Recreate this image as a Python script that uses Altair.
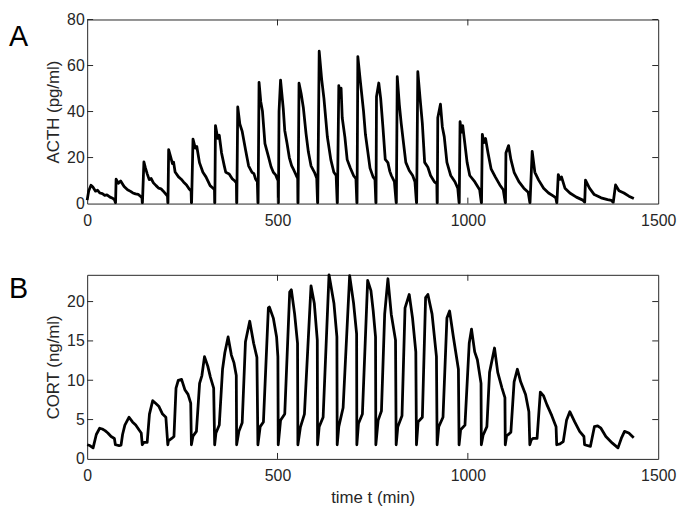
import altair as alt
import pandas as pd

# ---------------- data ----------------
acth_t = [0, 4, 10, 15, 22, 27, 33, 40, 46, 52, 60, 67, 72, 74.1,
          74.6, 76, 82, 88, 97, 106, 114, 120, 127, 134, 140, 144, 144.7,
          145.2, 149, 153, 158, 163, 168, 174, 181, 188, 194, 200, 206, 211, 211.8,
          212.3, 214, 220, 224, 227, 231, 240, 247, 253, 261, 268, 273, 273.8,
          274.3, 278, 284, 288, 295, 304, 312, 318, 323, 330, 334.4, 334.9,
          335.4, 337, 343, 347, 353, 360, 364, 373, 381, 388, 392, 392.6,
          393.1, 395.5, 401, 407, 416, 424, 433, 438, 442, 447, 448.5,
          449, 451.5, 456, 460.5, 467, 476, 483, 489, 495, 499, 501.4, 501.9,
          502.4, 504, 508, 515, 519, 525, 531, 537, 543, 549, 553, 553.5,
          554, 556.5, 562, 568, 575, 581, 588, 597, 603, 605.2,
          605.7, 609.5, 616, 622, 631, 640, 648, 654, 656.8,
          657.3, 661, 664, 667, 670, 677, 683, 691, 700, 706, 708.4,
          708.9, 711, 717, 726, 731, 736, 743, 751, 756, 758.3,
          758.8, 760, 766, 771, 777, 783, 790, 795, 799, 807, 811.7,
          812.2, 814.5, 820, 825, 831, 837, 846, 855, 861, 865,
          865.5, 868.5, 874.5, 880.5, 886.5, 895, 902, 912, 918.5, 919.3,
          919.8, 921, 928, 933, 938, 945, 955, 966, 973.5, 976.9,
          977.4, 979.5, 983, 986.5, 992, 998, 1005, 1018, 1031, 1035.4,
          1035.9, 1038, 1042, 1046.5, 1053, 1061, 1072, 1084, 1093, 1098.3,
          1098.8, 1100, 1107, 1113, 1121.5, 1134, 1147, 1158.5, 1162.8,
          1163.3, 1169, 1176, 1186, 1199, 1212, 1225, 1231, 1233.4,
          1233.9, 1237.5, 1242, 1246, 1255, 1268, 1285, 1302, 1306.6,
          1307, 1309, 1319.5, 1332, 1350, 1367, 1377, 1381.5,
          1382, 1388, 1397, 1410, 1423, 1436]
acth_v = [1.5, 5.5, 8.0, 7.2, 5.4, 5.8, 4.6, 4.3, 3.6, 3.8, 2.8, 2.3, 1.6, 0.4,
          0.4, 10.6, 8.8, 9.8, 7.4, 6.0, 5.3, 4.6, 4.2, 4.0, 3.2, 2.5, 0.4,
          0.4, 18.1, 15.5, 12.8, 10.4, 10.9, 9.0, 7.8, 6.7, 6.4, 5.4, 4.2, 3.2, 0.4,
          0.4, 23.4, 19.9, 17.4, 18.0, 13.7, 11.6, 10.6, 9.4, 8.1, 6.3, 5.5, 0.4,
          0.4, 28.0, 24.1, 24.8, 17.8, 13.6, 11.6, 9.5, 7.8, 6.8, 6.0, 0.4,
          0.4, 33.9, 28.3, 29.7, 22.0, 16.5, 13.6, 12.9, 10.8, 9.8, 9.0, 0.4,
          0.4, 42.0, 34.6, 31.5, 23.4, 16.4, 13.6, 13.0, 10.8, 9.5, 0.4,
          0.4, 52.7, 44.3, 40.1, 26.1, 20.5, 16.0, 13.6, 12.5, 10.8, 10.0, 0.4,
          0.4, 40.0, 53.7, 41.5, 31.8, 26.2, 20.0, 16.5, 14.5, 12.3, 11.0, 0.4,
          0.4, 52.3, 47.8, 41.5, 30.3, 22.5, 16.4, 13.6, 11.0, 0.4,
          0.4, 66.2, 54.0, 45.6, 28.9, 19.1, 13.6, 12.2, 0.4,
          0.4, 51.3, 46.0, 50.2, 37.3, 28.9, 19.1, 15.6, 12.1, 10.8, 0.4,
          0.4, 63.9, 54.1, 40.1, 30.0, 24.0, 15.4, 11.6, 10.5, 0.4,
          0.4, 46.4, 52.4, 45.7, 33.0, 19.2, 17.8, 14.0, 12.2, 9.5, 0.4,
          0.4, 55.2, 43.0, 34.7, 26.3, 17.9, 14.4, 12.2, 9.5, 0.4,
          0.4, 57.3, 45.7, 34.7, 17.9, 15.8, 12.2, 9.5, 8.5, 0.4,
          0.4, 37.3, 43.2, 33.3, 29.1, 17.9, 12.2, 9.5, 6.7, 0.4,
          0.4, 35.6, 31.0, 33.9, 26.3, 17.9, 12.2, 9.5, 6.0, 0.4,
          0.4, 30.1, 26.5, 28.3, 22.0, 15.1, 11.6, 8.1, 6.0, 0.4,
          0.4, 22.0, 25.2, 19.2, 13.6, 9.5, 6.7, 4.9, 0.4,
          0.4, 22.7, 13.6, 10.2, 6.7, 4.6, 3.2, 2.5, 0.4,
          0.4, 12.6, 10.5, 11.6, 6.7, 4.6, 2.8, 1.5, 0.6,
          0.6, 10.2, 6.7, 3.9, 2.5, 1.7, 1.4, 0.6,
          0.6, 8.1, 5.6, 4.6, 3.2, 2.2]

cort_t = [0, 7, 15.6, 24, 32.8, 39.7, 47, 54.3, 62.9, 71.5, 74.1, 84, 89, 93, 99, 110,
          119, 127.5, 136, 142, 144.7, 149, 157.6, 163.6, 172.2, 179, 188, 198, 206.7,
          211.8, 213.5, 222, 228, 233.4, 239.4, 248, 256.6, 265, 272, 273.8, 278, 287,
          295.3, 301.4, 308.2, 316.8, 323.7, 332.3, 334.9, 338.3, 347, 355.6, 361.6,
          370.2, 378.8, 385.7, 391.7, 392.6, 398.6, 407.2, 415.8, 427, 437.3, 445.9,
          448.5, 454.5, 463, 476, 478.6, 489, 497.6, 501, 501.9, 508, 519, 532, 536.3,
          545, 552.6, 553.5, 560, 570.7, 588, 596.6, 604.5, 605.2, 609.5, 619.8, 635.3,
          648.2, 656, 656.8, 661, 672.3, 689.5, 699.8, 707.8, 708.4, 712.7, 723, 736.8,
          745.4, 751.4, 757.5, 758.3, 764.3, 773, 781.5, 790, 798.8, 810, 811.7, 816,
          827, 835, 846, 854.7, 863.3, 865, 869.3, 880.5, 889, 895, 906, 917.5, 919.3,
          923.6, 934.7, 945, 952, 962, 975.2, 976.9, 981, 992.4, 1003.6, 1009.6, 1018,
          1025, 1034.6, 1035.4, 1040, 1050, 1057, 1070, 1078.5, 1089.7, 1097.4, 1098.3,
          1101.7, 1113, 1121.5, 1130, 1138.7, 1151.6, 1160.3, 1162.8, 1166.3, 1171.4,
          1181.8, 1190.4, 1199, 1207.6, 1220.5, 1231.7, 1233.4, 1242, 1250.6, 1259.2,
          1267.8, 1280.7, 1293.6, 1304.9, 1306.6, 1322, 1332.4, 1341, 1349.6, 1362.5,
          1379.7, 1394.4, 1403, 1411.6, 1422.8, 1435.7]
cort_v = [1.8, 1.7, 1.4, 3.1, 3.9, 3.8, 3.6, 3.3, 2.85, 2.6, 1.8, 1.7, 1.75, 3.1, 4.3, 5.3,
          4.7, 4.3, 3.7, 3.3, 1.8, 2.1, 2.1, 5.7, 7.4, 7.1, 6.7, 5.7, 5.3,
          1.8, 2.3, 2.6, 2.85, 9.0, 10.0, 10.1, 8.8, 8.2, 7.1, 1.8, 2.9, 3.5,
          9.6, 10.6, 13.0, 11.8, 10.4, 9.0, 1.8, 3.3, 4.3, 11.4, 13.5,
          15.5, 13.2, 12.2, 10.6, 1.8, 3.5, 4.6, 14.9, 17.5, 14.7, 12.9,
          1.8, 4.1, 4.7, 19.2, 19.3, 17.9, 15.5, 13.0, 1.8, 4.9, 5.7, 21.2, 21.5,
          18.4, 14.7, 1.8, 4.0, 5.7, 22.0, 19.8, 15.1, 1.8, 4.1, 5.3, 23.4,
          19.8, 15.5, 1.8, 4.1, 6.5, 23.3, 19.8, 15.9, 1.8, 4.5, 5.7, 22.7,
          21.4, 18.8, 15.5, 1.8, 4.9, 6.1, 18.4, 22.9, 18.4, 15.1, 1.8, 4.1,
          5.5, 19.2, 20.9, 17.9, 13.6, 1.8, 4.7, 5.3, 20.5, 20.9, 18.4, 13.0, 1.8,
          4.1, 5.3, 17.9, 18.8, 15.5, 11.4, 1.8, 3.7, 4.3, 14.7, 16.5, 13.6,
          12.6, 9.6, 1.8, 3.0, 4.1, 11.0, 14.1, 11.0, 9.0, 7.8, 1.8,
          2.9, 3.4, 9.8, 11.4, 9.8, 8.2, 6.0, 1.8, 2.4, 2.6,
          2.6, 8.5, 8.0, 6.9, 5.5, 4.1, 1.8, 1.9, 2.2, 4.9,
          6.0, 4.7, 3.5, 2.85, 1.8, 1.6, 4.1, 4.2, 3.9, 2.85,
          2.0, 1.4, 2.6, 3.5, 3.3, 2.7]

x_ticks = [0, 500, 1000, 1500]
acth_ticks = [0, 20, 40, 60, 80]
cort_ticks = [0, 5, 10, 15, 20]
acth_domain = [0, 80]
cort_domain = [0, 23.4]

# ---------------- styling ----------------
W, H = 577, 186
FONT = "Liberation Sans"
AX = "#262626"
TICK = 6


def panel(t, v, ydomain, yticks, ytitle, letter, letter_y, xtitle):
    df = pd.DataFrame({"t": t, "v": v})
    xaxis = alt.Axis(values=x_ticks, title=xtitle, format="d", labelFlush=False)
    yaxis = alt.Axis(values=yticks, title=ytitle, format="d", labelFlush=False)
    xs = alt.Scale(domain=[0, 1500], nice=False, zero=False)
    ys = alt.Scale(domain=ydomain, nice=False)
    X = alt.X("t:Q", scale=xs, axis=xaxis)
    Y = alt.Y("v:Q", scale=ys, axis=yaxis)
    line = alt.Chart(df).mark_line(
        color="black", strokeWidth=2.8, strokeJoin="round"
    ).encode(x=X, y=Y)
    xt = pd.DataFrame({"t": x_ticks[1:-1]})
    yt = pd.DataFrame({"v": yticks[1:]})
    xb = alt.Chart(xt).mark_rule(color=AX, strokeWidth=1).encode(
        x=X, y=alt.value(H), y2=alt.value(H - TICK))
    xtop = alt.Chart(xt).mark_rule(color=AX, strokeWidth=1).encode(
        x=X, y=alt.value(0), y2=alt.value(TICK))
    yl = alt.Chart(yt).mark_rule(color=AX, strokeWidth=1).encode(
        y=Y, x=alt.value(0), x2=alt.value(TICK))
    yr = alt.Chart(yt).mark_rule(color=AX, strokeWidth=1).encode(
        y=Y, x=alt.value(W), x2=alt.value(W - TICK))
    lab = alt.Chart(pd.DataFrame({"lab": [letter]})).mark_text(
        font=FONT, fontSize=29, align="left", baseline="top", color="black"
    ).encode(text="lab:N", x=alt.value(-79), y=alt.value(letter_y))
    return alt.layer(line, xb, xtop, yl, yr, lab).properties(width=W, height=H)


top = panel(acth_t, acth_v, acth_domain, acth_ticks, "ACTH (pg/ml)", "A", 4, None)
bottom = panel(cort_t, cort_v, cort_domain, cort_ticks, "CORT (ng/ml)", "B", 0, "time t (min)")

chart = alt.vconcat(top, bottom, spacing=72, bounds="flush").properties(
    padding=0, background="white"
).configure_view(
    stroke=AX, strokeWidth=1
).configure_axis(
    domain=False, ticks=False, tickSize=0, grid=False,
    labelFont=FONT, labelFontSize=16, labelColor=AX,
    titleFont=FONT, titleFontSize=17, titleFontWeight="normal", titleColor=AX,
).configure_axisX(
    labelPadding=9, titlePadding=6.5,
).configure_axisY(
    labelPadding=3, titlePadding=4,
)

chart.save("out.html", embed_options={"renderer": "svg", "actions": False})
